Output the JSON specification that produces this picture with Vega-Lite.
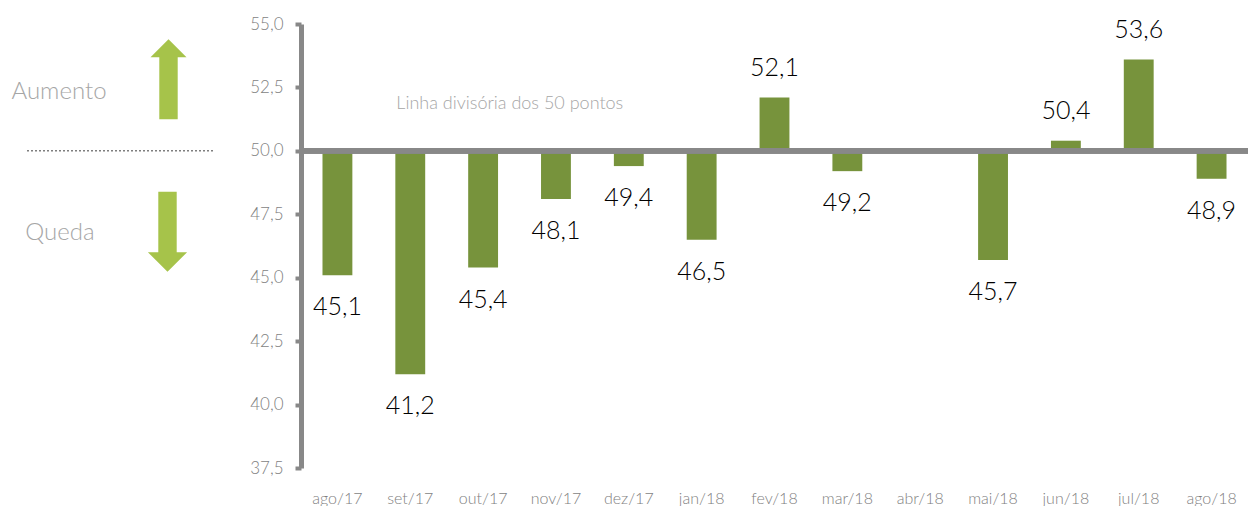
{
  "$schema": "https://vega.github.io/schema/vega-lite/v6.json",
  "padding": {"left": 0, "top": 15, "right": 0, "bottom": 0},
  "bounds": "flush",
  "spacing": 71,
  "config": {
    "view": {"stroke": null},
    "font": "Lato",
    "locale": {"number": {"decimal": ",", "thousands": ".", "grouping": [3], "currency": ["R$", ""]}}
  },
  "datasets": {
    "bars": [
      {"month": "ago/17", "value": 45.1},
      {"month": "set/17", "value": 41.2},
      {"month": "out/17", "value": 45.4},
      {"month": "nov/17", "value": 48.1},
      {"month": "dez/17", "value": 49.4},
      {"month": "jan/18", "value": 46.5},
      {"month": "fev/18", "value": 52.1},
      {"month": "mar/18", "value": 49.2},
      {"month": "mai/18", "value": 45.7},
      {"month": "jun/18", "value": 50.4},
      {"month": "jul/18", "value": 53.6},
      {"month": "ago/18", "value": 48.9}
    ],
    "side_text": [
      {"x": 59, "y": 52.32, "t": "Aumento"},
      {"x": 60, "y": 46.76, "t": "Queda"}
    ],
    "side_arrows": [
      {"x": 168.5, "y": 52.82, "dir": "up"},
      {"x": 167.5, "y": 46.81, "dir": "down"}
    ],
    "side_rule": [
      {"x": 27, "x2": 213, "y": 50}
    ],
    "note": [
      {"month": "set/17", "value": 51.85, "t": "Linha divisória dos 50 pontos"}
    ]
  },
  "hconcat": [
    {
      "width": 230,
      "height": 444,
      "layer": [
        {
          "data": {"name": "side_rule"},
          "mark": {"type": "rule", "strokeDash": [2, 2], "strokeWidth": 1.5, "color": "#7f7f7f"},
          "encoding": {
            "x": {"field": "x", "type": "quantitative", "scale": {"domain": [0, 230], "nice": false, "zero": false}, "axis": null},
            "x2": {"field": "x2"},
            "y": {"field": "y", "type": "quantitative", "scale": {"domain": [37.5, 55], "nice": false, "zero": false}, "axis": null}
          }
        },
        {
          "data": {"name": "side_text"},
          "mark": {"type": "text", "fontSize": 24, "fontWeight": 300, "color": "#a6a6a6", "align": "center", "baseline": "middle"},
          "encoding": {
            "x": {"field": "x", "type": "quantitative"},
            "y": {"field": "y", "type": "quantitative"},
            "text": {"field": "t"}
          }
        },
        {
          "data": {"name": "side_arrows"},
          "mark": {"type": "point", "filled": true, "size": 6400, "opacity": 1, "color": "#a6c34a", "strokeWidth": 0},
          "encoding": {
            "x": {"field": "x", "type": "quantitative"},
            "y": {"field": "y", "type": "quantitative"},
            "shape": {
              "field": "dir",
              "type": "nominal",
              "scale": {
                "domain": ["up", "down"],
                "range": [
                  "M0,-1L0.45,-0.55L0.23,-0.55L0.23,1L-0.23,1L-0.23,-0.55L-0.45,-0.55Z",
                  "M0,1L0.49,0.51L0.23,0.51L0.23,-1L-0.23,-1L-0.23,0.51L-0.49,0.51Z"
                ]
              },
              "legend": null
            }
          }
        }
      ]
    },
    {
      "width": 947,
      "height": 444,
      "encoding": {
        "x": {
          "field": "month",
          "type": "nominal",
          "sort": null,
          "scale": {
            "domain": ["ago/17", "set/17", "out/17", "nov/17", "dez/17", "jan/18", "fev/18", "mar/18", "abr/18", "mai/18", "jun/18", "jul/18", "ago/18"],
            "paddingInner": 0.59,
            "paddingOuter": 0.295
          },
          "axis": {
            "title": null,
            "domain": false,
            "ticks": false,
            "labelAngle": 0,
            "labelFontSize": 16,
            "labelFontWeight": 300,
            "labelColor": "#7f7f7f",
            "labelPadding": 22
          }
        },
        "y": {
          "field": "value",
          "type": "quantitative",
          "scale": {"domain": [37.5, 55], "nice": false, "zero": false},
          "axis": {
            "title": null,
            "values": [37.5, 40, 42.5, 45, 47.5, 50, 52.5, 55],
            "format": ".1f",
            "grid": false,
            "domainColor": "#888888",
            "domainWidth": 5,
            "tickColor": "#888888",
            "tickSize": 6,
            "tickWidth": 4,
            "labelPadding": 12,
            "labelFontSize": 17,
            "labelFontWeight": 300,
            "labelColor": "#7f7f7f"
          }
        }
      },
      "layer": [
        {
          "data": {"name": "bars"},
          "mark": {"type": "bar", "color": "#77933c"},
          "encoding": {"y2": {"datum": 50}}
        },
        {
          "data": {"name": "bars"},
          "mark": {"type": "rule", "color": "#888888", "strokeWidth": 5},
          "encoding": {"x": null, "y": {"datum": 50, "type": "quantitative"}}
        },
        {
          "data": {"name": "bars"},
          "transform": [{"filter": "datum.value < 50"}],
          "mark": {"type": "text", "fontSize": 25, "fontWeight": 300, "color": "#000000", "baseline": "middle", "dy": 32},
          "encoding": {"text": {"field": "value", "type": "quantitative", "format": ".1f"}}
        },
        {
          "data": {"name": "bars"},
          "transform": [{"filter": "datum.value >= 50"}],
          "mark": {"type": "text", "fontSize": 25, "fontWeight": 300, "color": "#000000", "baseline": "middle", "dy": -30},
          "encoding": {"text": {"field": "value", "type": "quantitative", "format": ".1f"}}
        },
        {
          "data": {"name": "note"},
          "mark": {"type": "text", "fontSize": 18, "fontWeight": 300, "color": "#a6a6a6", "align": "left", "baseline": "middle", "dx": -14},
          "encoding": {"text": {"field": "t"}}
        }
      ]
    }
  ]
}
